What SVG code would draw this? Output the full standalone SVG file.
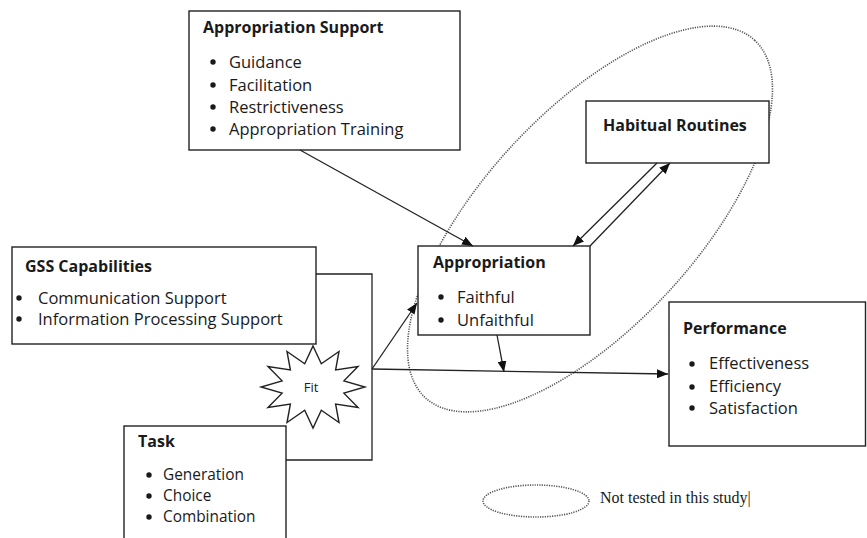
<svg xmlns="http://www.w3.org/2000/svg" width="867" height="538" viewBox="0 0 867 538">
<style>
.box{fill:#fff;stroke:#222;stroke-width:1.4}
.t{font-family:"Open Sans","Liberation Sans",sans-serif;font-size:16.5px;fill:#1a1a1a}
.s{font-size:15.4px}
.h{font-family:"Open Sans","Liberation Sans",sans-serif;font-size:16px;font-weight:bold;fill:#1a1a1a}
.b{fill:#1a1a1a}
.ln{fill:none;stroke:#222;stroke-width:1.3}
.arr{marker-end:url(#ah)}
.dot{fill:none;stroke:#555;stroke-width:1.6;stroke-dasharray:1.2 1.2}
</style>
<defs>
<marker id="ah" markerWidth="12" markerHeight="9" refX="11" refY="4.5" orient="auto" markerUnits="userSpaceOnUse">
<path d="M0,0 L11,4.5 L0,9 z" fill="#111"/>
</marker>
</defs>
<rect width="867" height="538" fill="#fff"/>

<g id="scope-ellipse">
<ellipse class="dot" cx="590" cy="219" rx="243" ry="107" transform="rotate(-47.35 590 219)"/>
</g>

<g id="appropriation-support">
<rect class="box" x="189" y="11" width="271" height="139"/>
<text class="h" x="203" y="33">Appropriation Support</text>
<circle class="b" cx="213" cy="62" r="2.7"/><text class="t" x="229" y="68">Guidance</text>
<circle class="b" cx="213" cy="85" r="2.7"/><text class="t" x="229" y="91">Facilitation</text>
<circle class="b" cx="213" cy="107" r="2.7"/><text class="t" x="229" y="113">Restrictiveness</text>
<circle class="b" cx="213" cy="129" r="2.7"/><text class="t" x="229" y="135">Appropriation Training</text>
</g>

<g id="habitual-routines">
<rect class="box" x="586" y="101" width="183" height="62"/>
<text class="h" x="603" y="131">Habitual Routines</text>
</g>

<g id="gss-capabilities">
<rect class="box" x="12" y="247" width="304" height="97"/>
<text class="h" x="25" y="272">GSS Capabilities</text>
<circle class="b" cx="19" cy="298" r="2.7"/><text class="t" x="38" y="304">Communication Support</text>
<circle class="b" cx="19" cy="319" r="2.7"/><text class="t" x="38" y="325">Information Processing Support</text>
</g>

<g id="appropriation">
<rect class="box" x="418" y="246" width="172" height="89"/>
<text class="h" x="433" y="268">Appropriation</text>
<circle class="b" cx="441" cy="297" r="2.7"/><text class="t" x="457" y="303">Faithful</text>
<circle class="b" cx="441" cy="320" r="2.7"/><text class="t" x="457" y="326">Unfaithful</text>
</g>

<g id="performance">
<rect class="box" x="669" y="302" width="196.5" height="144"/>
<text class="h" x="683" y="334">Performance</text>
<circle class="b" cx="692" cy="364" r="2.7"/><text class="t" x="709" y="369">Effectiveness</text>
<circle class="b" cx="692" cy="387" r="2.7"/><text class="t" x="709" y="392">Efficiency</text>
<circle class="b" cx="692" cy="408" r="2.7"/><text class="t" x="709" y="414">Satisfaction</text>
</g>

<g id="task">
<rect class="box" x="124" y="426" width="162" height="125"/>
<text class="h" x="138" y="447">Task</text>
<circle class="b" cx="149" cy="475" r="2.7"/><text class="t s" x="163" y="480">Generation</text>
<circle class="b" cx="149" cy="496" r="2.7"/><text class="t s" x="163" y="501">Choice</text>
<circle class="b" cx="149" cy="517" r="2.7"/><text class="t s" x="163" y="522">Combination</text>
</g>

<g id="fit">
<polygon fill="#fff" stroke="#222" stroke-width="1.4" points="313,346 321.3,363.8 339,351.5 335.6,370 358,366.5 343.9,380.8 365,387 343.9,393.2 358,407.5 335.6,404 339,422.5 321.3,410.2 313,428 304.7,410.2 287,422.5 290.4,404 268,407.5 282.1,393.2 261,387 282.1,380.8 268,366.5 290.4,370 287,351.5 304.7,363.8"/>
<text x="311" y="392" text-anchor="middle" font-family="Open Sans, Liberation Sans, sans-serif" font-size="13" fill="#1a1a1a">Fit</text>
</g>

<g id="connectors">
<polyline class="ln" points="316,274 372,274 372,460 286,460"/>
<line class="ln arr" x1="372" y1="369" x2="417" y2="303"/>
<line class="ln arr" x1="372" y1="369" x2="668" y2="374"/>
<line class="ln arr" x1="300" y1="150" x2="473" y2="246"/>
<line class="ln arr" x1="657" y1="163" x2="573" y2="246"/>
<line class="ln arr" x1="590" y1="246" x2="670" y2="163"/>
<line class="ln arr" x1="497" y1="335" x2="504" y2="372"/>
</g>

<g id="legend">
<ellipse class="dot" cx="536" cy="501" rx="53" ry="16"/>
<text x="600" y="503" font-family="Liberation Serif, serif" font-size="16" fill="#1a1a1a">Not tested in this study|</text>
</g>
</svg>
